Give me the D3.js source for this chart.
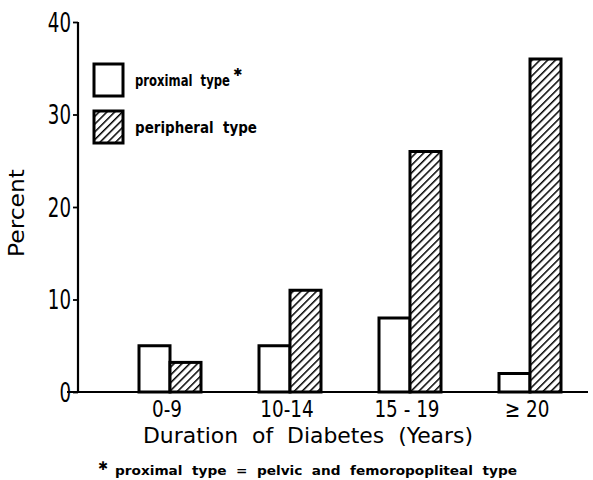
<!DOCTYPE html>
<html>
<head>
<meta charset="utf-8">
<script src="https://cdn.jsdelivr.net/npm/d3@7"></script>
<style>
  body { margin: 0; background: #fff; }
  svg { display: block; }
  text { font-family: "DejaVu Sans", sans-serif; fill: #000; white-space: pre; }
</style>
</head>
<body>
<svg id="chart" width="593" height="480"></svg>
<script>
var categories = ['0-9', '10-14', '15 - 19', '\u2265 20'];
var proximal = [5, 5, 8, 2];
var peripheral = [3.2, 11, 26, 36];
var yTicks = [0, 10, 20, 30, 40];
var seriesNames = ['proximal type', 'peripheral type'];

var svg = d3.select('#chart');
var axisX = 78,
    barW = 31;

var y = d3.scaleLinear().domain([0, 40]).range([392, 22]);
var x = d3.scalePoint().domain(categories).range([170, 530]);

// squeeze text horizontally, the original lettering is narrow
function condense(sel, k) {
    sel.each(function() {
        d3.select(this)
            .attr('textLength', this.getComputedTextLength() * k)
            .attr('lengthAdjust', 'spacingAndGlyphs');
    });
}

function fit(sel, w) {
    sel.attr('textLength', w).attr('lengthAdjust', 'spacingAndGlyphs');
}

// hatch pattern for the peripheral bars
var defs = svg.append('defs');
var pat = defs.append('pattern')
    .attr('id', 'hatch')
    .attr('patternUnits', 'userSpaceOnUse')
    .attr('width', 5.5).attr('height', 5.5)
    .attr('patternTransform', 'rotate(45)');
pat.append('rect').attr('width', 5.5).attr('height', 5.5).attr('fill', '#fff');
pat.append('line')
    .attr('x1', 0).attr('y1', 0).attr('x2', 0).attr('y2', 5.5)
    .attr('stroke', '#000').attr('stroke-width', 3);

// y axis
var yAxis = svg.append('g').attr('transform', 'translate(' + axisX + ',0)')
    .call(d3.axisLeft(y).tickValues(yTicks).tickSize(5).tickPadding(2));
yAxis.select('.domain').attr('stroke-width', 2.2).attr('d', 'M0,' + (y(0) + 1) + 'V' + y(40));
yAxis.selectAll('.tick line').attr('stroke-width', 1.8);
yAxis.selectAll('.tick text')
    .style('font-size', '26px')
    .style('font-family', '"DejaVu Sans", sans-serif')
    .attr('dy', '0.36em')
    .call(condense, 0.7);

// baseline
svg.append('line')
    .attr('x1', 67).attr('x2', 588)
    .attr('y1', y(0)).attr('y2', y(0))
    .attr('stroke', '#000').attr('stroke-width', 2.2);

// bars
var bars = svg.append('g');
bars.selectAll('rect.prox').data(categories).enter().append('rect')
    .attr('class', 'prox')
    .attr('x', function(d) { return x(d) - barW; })
    .attr('y', function(d, i) { return y(proximal[i]); })
    .attr('width', barW)
    .attr('height', function(d, i) { return y(0) - y(proximal[i]); })
    .attr('fill', '#fff').attr('stroke', '#000').attr('stroke-width', 3);

bars.selectAll('rect.peri').data(categories).enter().append('rect')
    .attr('class', 'peri')
    .attr('x', function(d) { return x(d); })
    .attr('y', function(d, i) { return y(peripheral[i]); })
    .attr('width', barW)
    .attr('height', function(d, i) { return y(0) - y(peripheral[i]); })
    .attr('fill', 'url(#hatch)').attr('stroke', '#000').attr('stroke-width', 3);

// category labels
svg.append('g').selectAll('text').data(categories).enter().append('text')
    .attr('x', function(d) { return x(d) - 3; })
    .attr('y', 417)
    .attr('text-anchor', 'middle')
    .style('font-size', '23px')
    .text(function(d) { return d; })
    .call(condense, 0.8);

// axis titles
svg.append('text')
    .attr('x', 308).attr('y', 443)
    .attr('text-anchor', 'middle')
    .style('font-size', '21px')
    .text('Duration  of  Diabetes  (Years)')
    .call(fit, 330);

svg.append('text')
    .attr('transform', 'translate(24,213) rotate(-90)')
    .attr('text-anchor', 'middle')
    .style('font-size', '22px')
    .text('Percent')
    .call(fit, 88);

// legend
var legend = svg.append('g');
var legendY = [64, 111];
legend.selectAll('rect').data(seriesNames).enter().append('rect')
    .attr('x', 94)
    .attr('y', function(d, i) { return legendY[i]; })
    .attr('width', 29).attr('height', 32)
    .attr('fill', function(d, i) { return i ? 'url(#hatch)' : '#fff'; })
    .attr('stroke', '#000').attr('stroke-width', 3);
var legendText = legend.selectAll('text').data(seriesNames).enter().append('text')
    .attr('x', 135)
    .attr('y', function(d, i) { return legendY[i] + 22; })
    .style('font-size', '15px')
    .style('font-weight', 'bold');
legendText.append('tspan')
    .text(function(d) { return d.replace(' ', '  '); })
    .each(function(d, i) { d3.select(this).call(fit, i ? 122 : 95); });
// footnote marker on the proximal entry
legendText.filter(function(d, i) { return i === 0; }).append('tspan')
    .attr('dx', 3).attr('dy', -10)
    .style('font-size', '11px')
    .style('font-weight', 'normal')
    .text('\u2731');

// footnote
var foot = svg.append('text')
    .attr('x', 98).attr('y', 475)
    .style('font-weight', 'bold');
foot.append('tspan')
    .attr('dy', -5)
    .style('font-size', '12px')
    .style('font-weight', 'normal')
    .text('\u2731');
foot.append('tspan')
    .attr('x', 115).attr('y', 475)
    .style('font-size', '13px')
    .text('proximal  type  =  pelvic  and  femoropopliteal  type')
    .call(fit, 402);
</script>
</body>
</html>
